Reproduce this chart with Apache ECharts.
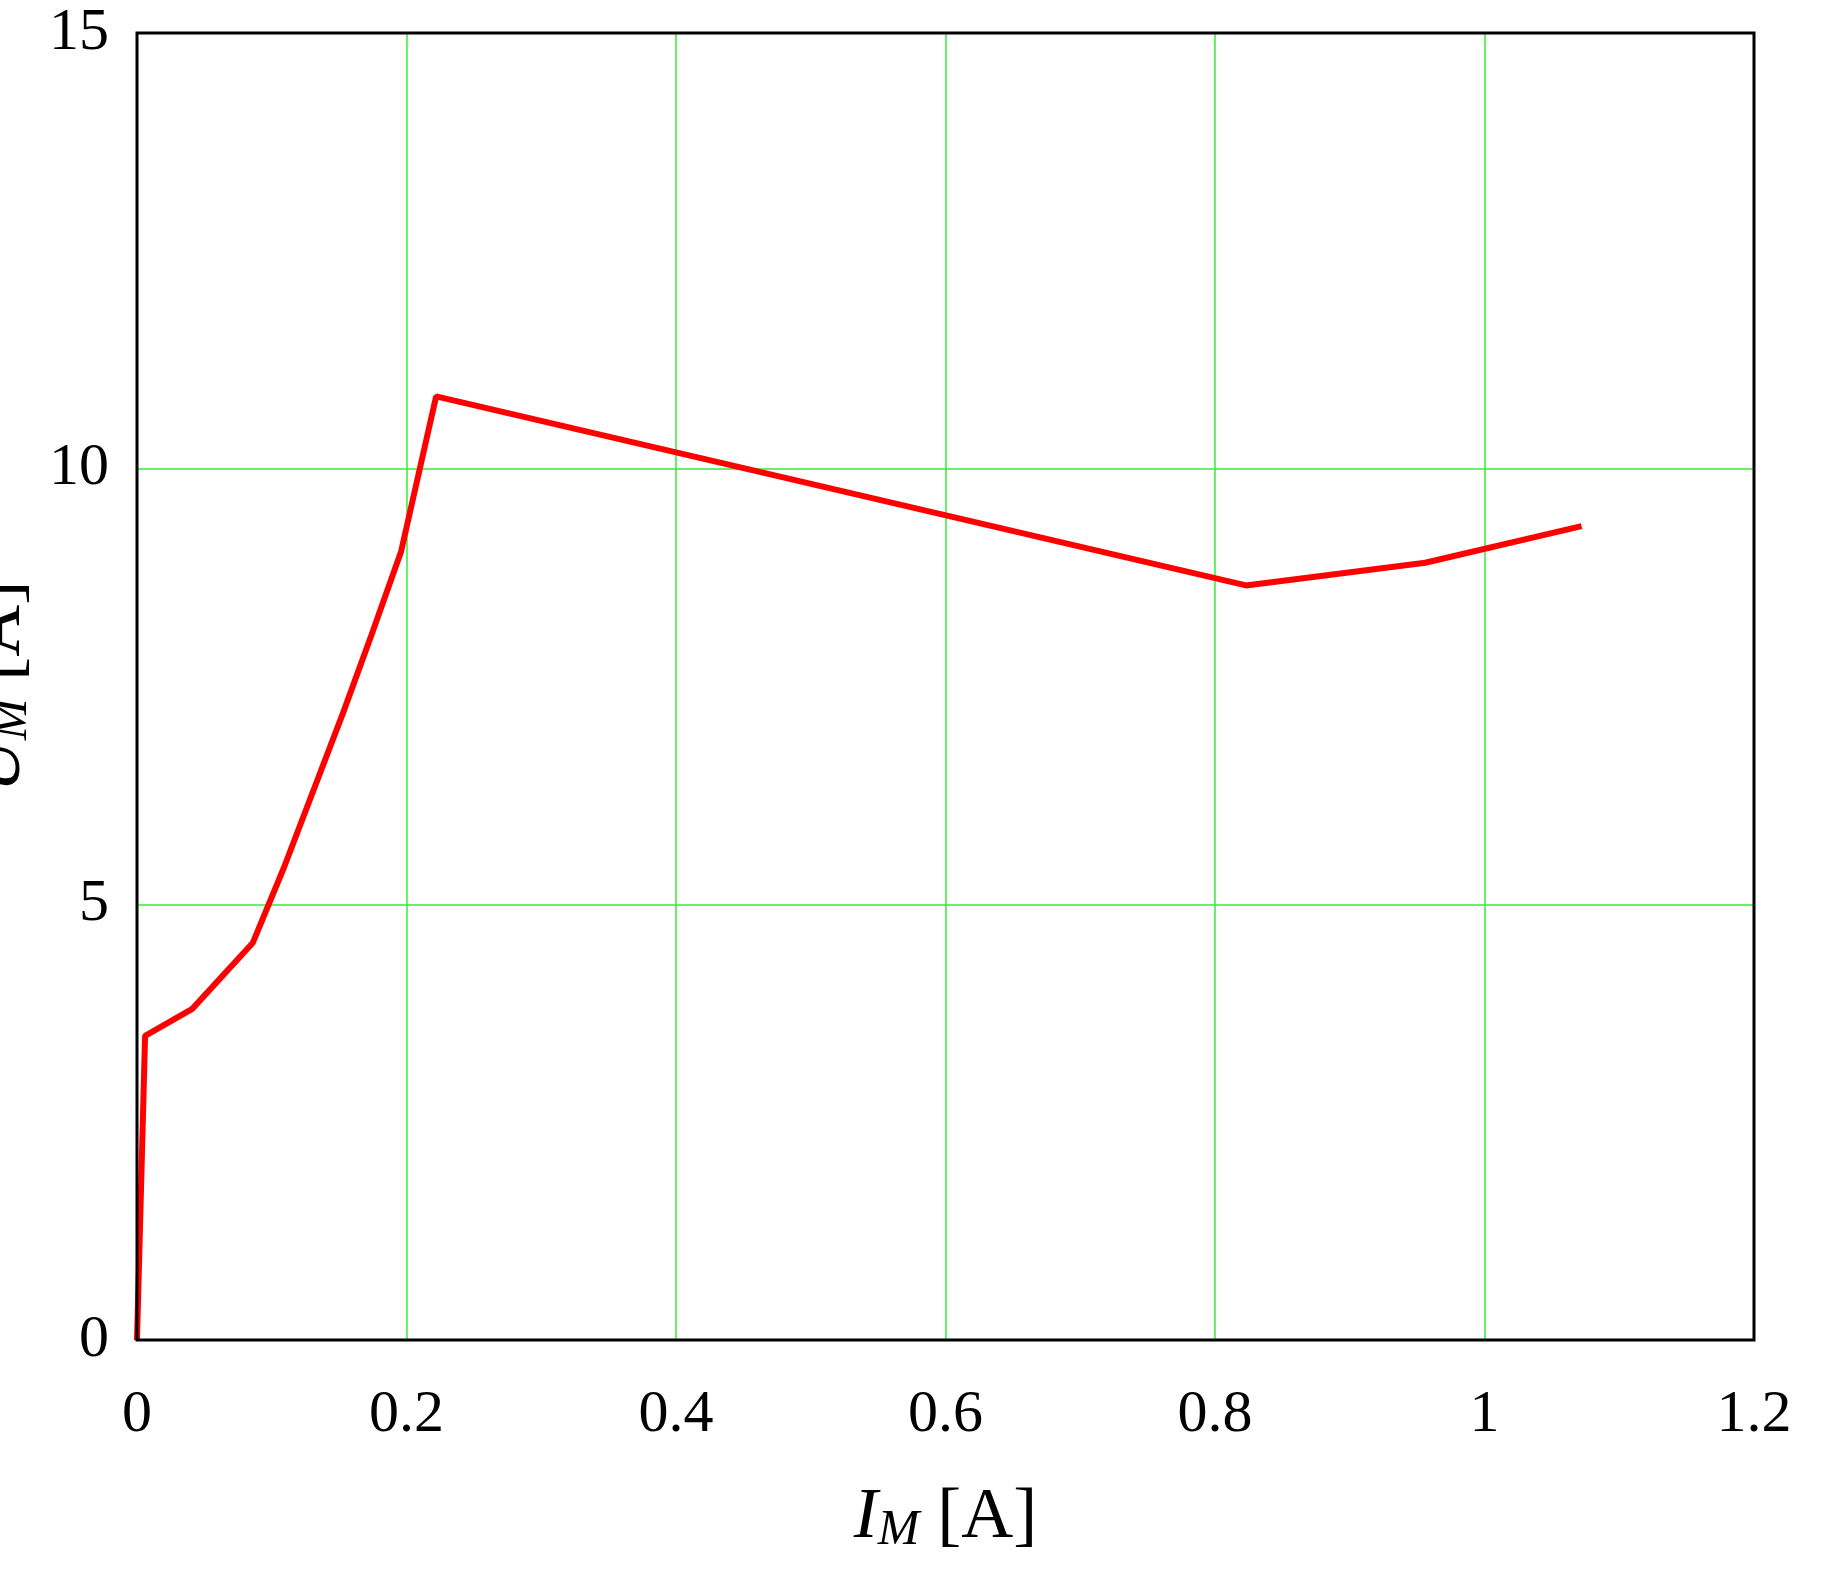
<!DOCTYPE html>
<html><head><meta charset="utf-8">
<script src="https://cdn.jsdelivr.net/npm/echarts@6/dist/echarts.min.js"></script>
<style>html,body{margin:0;background:#fff}#c{width:1833px;height:1582px}</style>
</head><body><div id="c"></div>
<script>
var currentA = [0, 0.006, 0.041, 0.086, 0.109, 0.153, 0.174, 0.196, 0.222, 0.823, 0.956, 1.072];
var voltage = [0, 3.49, 3.80, 4.56, 5.42, 7.20, 8.09, 9.05, 10.83, 8.66, 8.92, 9.34];

var chart = echarts.init(document.getElementById('c'));
var font = 'Liberation Serif';
var titleStyle = {fontFamily: font, fontSize: 72, color: '#000',
    rich: {i: {fontFamily: font, fontSize: 72, fontStyle: 'italic'},
           s: {fontFamily: font, fontSize: 50, fontStyle: 'italic', padding: [26, 0, 0, 0]}}};
chart.setOption({
    animation: false,
    grid: {left: 137, right: 79, top: 33, bottom: 242, outerBoundsMode: 'none', containLabel: false,
        show: true, borderColor: '#000', borderWidth: 3, z: 10},
    xAxis: {
        type: 'value', min: 0, max: 1.2, interval: 0.2,
        axisLine: {show: false}, axisTick: {show: false},
        axisLabel: {fontFamily: font, fontSize: 60, color: '#000', margin: 45,
            formatter: function (v) { return +v.toFixed(1); }},
        splitLine: {showMinLine: false, showMaxLine: false, lineStyle: {color: '#33ee33', width: 1.5}},
        name: '{i|I}{s|M} [A]', nameLocation: 'middle', nameGap: 140,
        nameTextStyle: titleStyle
    },
    yAxis: {
        type: 'value', min: 0, max: 15, interval: 5,
        axisLine: {show: false}, axisTick: {show: false},
        axisLabel: {fontFamily: font, fontSize: 60, color: '#000', margin: 28},
        splitLine: {showMinLine: false, showMaxLine: false, lineStyle: {color: '#33ee33', width: 1.5}},
        name: '{i|U}{s|M} [A]', nameLocation: 'middle', nameGap: 85,
        nameTextStyle: titleStyle
    },
    series: [{
        type: 'line', symbol: 'none',
        lineStyle: {color: '#ff0000', width: 6},
        data: currentA.map(function (x, i) { return [x, voltage[i]]; })
    }]
});
</script></body></html>
